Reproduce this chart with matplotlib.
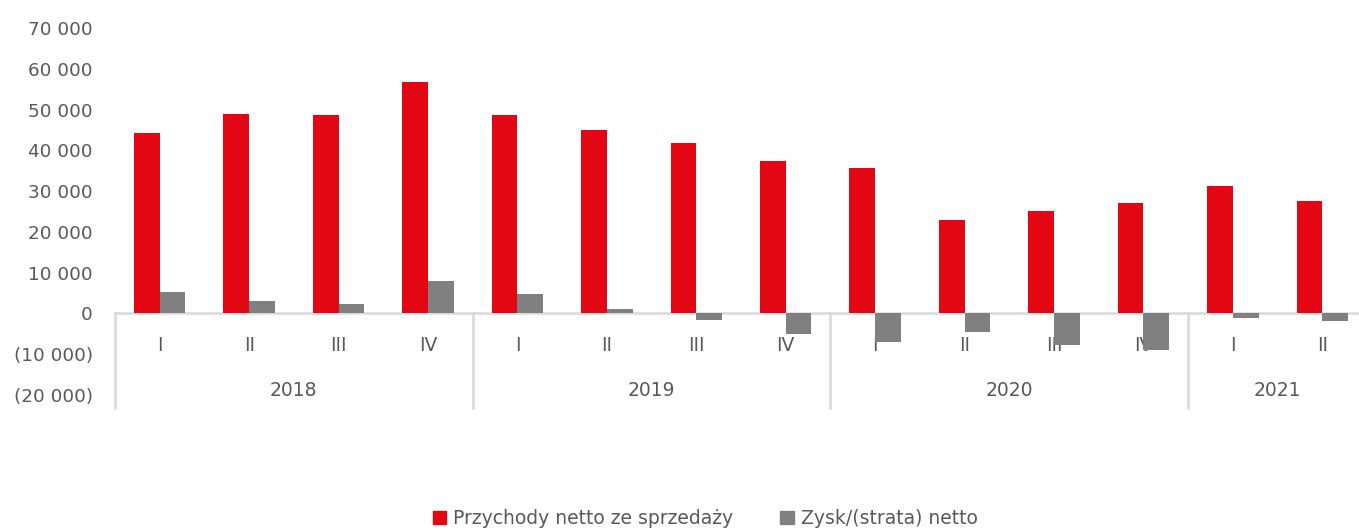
import numpy as np
import matplotlib
matplotlib.use("Agg")
import matplotlib.pyplot as plt
from matplotlib.ticker import FuncFormatter
from matplotlib.patches import Patch

# dane kwartalne
years = ["2018", "2019", "2020", "2021"]
quarters = ["I", "II", "III", "IV", "I", "II", "III", "IV",
            "I", "II", "III", "IV", "I", "II"]
quarters_per_year = [4, 4, 4, 2]
revenue = [44200, 48900, 48600, 56800, 48600, 45100, 41900, 37300,
           35650, 22800, 25000, 27200, 31300, 27550]
net_profit = [5150, 2950, 2300, 7950, 4800, 1000, -1700, -5150,
              -7100, -4650, -7750, -9000, -1000, -1900]

RED = "#E30613"
GRAY = "#808080"
TXT = "#595959"
LINE = "#D9D9D9"

plt.rcParams["font.family"] = ["DejaVu Sans"]

fig = plt.figure(figsize=(13.59, 5.30), dpi=100)
ax = fig.add_axes([115 / 1359, 0.2547, 1252 / 1359, 0.6925])

x = np.arange(len(quarters))
w = 0.287
ax.bar(x - w / 2, revenue, w, color=RED, zorder=3, label="Przychody netto ze sprzedaży")
ax.bar(x + w / 2, net_profit, w, color=GRAY, zorder=3, label="Zysk/(strata) netto")

ax.set_xlim(-0.5, len(quarters) - 0.5)
ax.set_ylim(-20000, 70000)
ax.set_yticks(np.arange(-20000, 70001, 10000))


def fmt(v, pos):
    s = f"{abs(int(v)):,}".replace(",", " ")
    return f"({s})" if v < 0 else s


ax.yaxis.set_major_formatter(FuncFormatter(fmt))
ax.tick_params(axis="y", length=0, pad=16, labelsize=13.2, labelcolor=TXT)
ax.set_xticks([])
for s in ax.spines.values():
    s.set_visible(False)

# os zero
ax.axhline(0, color=LINE, lw=1.8, zorder=2)

# etykiety kwartalow i lat (pod slupkami)
tr = ax.get_xaxis_transform()
q_y = 1 - (345 - 28) / 367
yr_y = 1 - (390 - 28) / 367
for i, q in enumerate(quarters):
    ax.text(i, q_y, q, transform=tr, ha="center", va="center",
            fontsize=13.5, color=TXT, zorder=1, clip_on=False)

start = 0
bounds = [-0.5]
for yr, n in zip(years, quarters_per_year):
    mid = start + (n - 1) / 2
    ax.text(mid, yr_y, yr, transform=tr, ha="center", va="center",
            fontsize=13.5, color=TXT, zorder=1, clip_on=False)
    start += n
    bounds.append(start - 0.5)

for b in bounds[:-1]:
    ax.plot([b, b], [0, -23200], color=LINE, lw=1.8, clip_on=False, zorder=2)

handles = [Patch(color=RED, label="Przychody netto ze sprzedaży"),
           Patch(color=GRAY, label="Zysk/(strata) netto")]
fig.legend(handles=handles, loc="center", bbox_to_anchor=(0.519, 0.021), ncol=2,
           frameon=False, handlelength=0.7, handleheight=0.7, handletextpad=0.4,
           columnspacing=2.5, fontsize=13.5, labelcolor=TXT)

fig.savefig("out.png", dpi=100)
